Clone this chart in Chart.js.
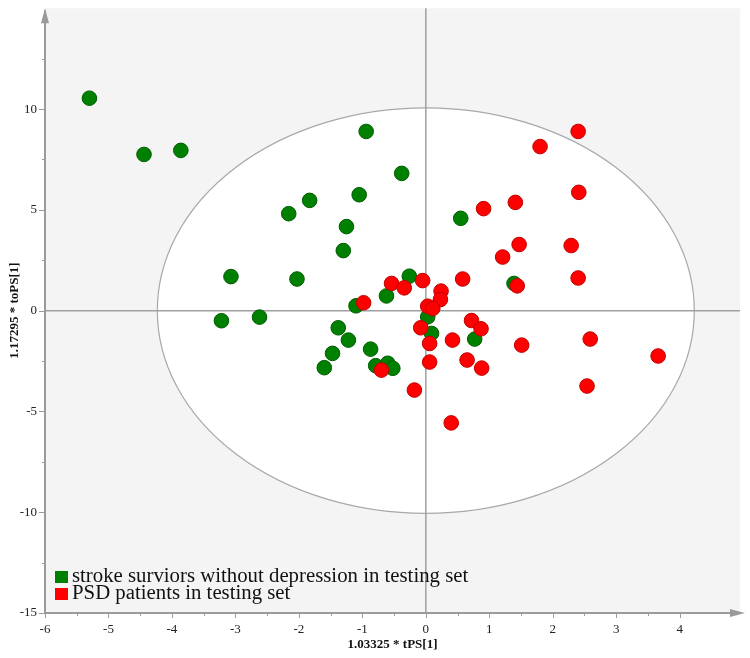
<!DOCTYPE html>
<html>
<head>
<meta charset="utf-8">
<script src="https://cdn.jsdelivr.net/npm/chart.js@4"></script>
<style>
  body { margin: 0; background: #fff; }
  #wrap { width: 750px; height: 658px; position: relative; }
</style>
</head>
<body>
<div id="wrap"><canvas id="scoreChart"></canvas></div>
<script>
// group names used in the legend
var seriesNames = [
    'stroke surviors without depression in testing set',
    'PSD patients in testing set'
];

// stroke survivors without depression (green)
var greenX = [-5.30, -4.44, -3.86, -0.94, -0.38, -1.83, -2.16, -1.05, -1.25, -1.30,
              -2.03, 0.55, -0.26, -0.62, -1.10, -3.22, -3.07, -2.62, -1.38, -1.22,
              -1.47, -1.60, 0.03, 0.09, 0.77, 1.39, -0.87, -0.79, -0.60, -0.52];
var greenY = [10.54, 7.75, 7.95, 8.89, 6.81, 5.47, 4.81, 5.75, 4.17, 2.98,
              1.57, 4.58, 1.71, 0.73, 0.24, -0.50, 1.69, -0.32, -0.85, -1.46,
              -2.12, -2.83, -0.31, -1.13, -1.41, 1.35, -1.91, -2.73, -2.61, -2.86];

// PSD patients (red)
var redX = [-0.98, -0.54, -0.34, -0.05, 0.24, 0.23, 0.03, 0.11, -0.08, 0.06,
            0.06, 0.42, 0.72, 0.87, 0.65, 0.88, -0.18, 0.40, 0.58, 1.21,
            -0.70, 2.40, 1.80, 2.41, 1.41, 0.91, 1.47, 2.29, 2.40, 1.44,
            1.51, 2.59, 3.66, 2.54];
var redY = [0.39, 1.35, 1.13, 1.49, 0.97, 0.55, 0.22, 0.11, -0.85, -1.63,
            -2.55, -1.46, -0.49, -0.90, -2.45, -2.85, -3.94, -5.57, 1.57, 2.66,
            -2.95, 8.89, 8.14, 5.87, 5.37, 5.06, 3.28, 3.23, 1.62, 1.23,
            -1.71, -1.41, -2.25, -3.74];

// Hotelling T2 ellipse half axes
var ellipseRx = 4.23;
var ellipseRy = 10.06;

var seriesColors = ['#008000', '#ff0000'];
var seriesBorders = ['#005c00', '#c00000'];

function toPoints(xs, ys) {
    var pts = [];
    for (var i = 0; i < xs.length; i++) pts.push({ x: xs[i], y: ys[i] });
    return pts;
}

var axisColor = '#9a9a9a';
var serif = "'Liberation Serif', 'Times New Roman', serif";

// grey plot area, white ellipse, lines through zero
var backdrop = {
    id: 'backdrop',
    beforeDatasetsDraw: function(chart) {
        var ctx = chart.ctx, a = chart.chartArea;
        var sx = chart.scales.x, sy = chart.scales.y;
        var cx = sx.getPixelForValue(0), cy = sy.getPixelForValue(0);
        ctx.save();
        ctx.fillStyle = '#f4f4f4';
        ctx.fillRect(a.left, a.top, a.right - a.left, a.bottom - a.top);
        ctx.beginPath();
        ctx.ellipse(cx, cy, sx.getPixelForValue(ellipseRx) - cx, cy - sy.getPixelForValue(ellipseRy), 0, 0, Math.PI * 2);
        ctx.fillStyle = '#ffffff';
        ctx.fill();
        ctx.lineWidth = 1.2;
        ctx.strokeStyle = '#a8a8a8';
        ctx.stroke();
        ctx.beginPath();
        ctx.moveTo(cx, a.top);
        ctx.lineTo(cx, a.bottom);
        ctx.moveTo(a.left, cy);
        ctx.lineTo(a.right, cy);
        ctx.lineWidth = 1.5;
        ctx.strokeStyle = '#a0a0a0';
        ctx.stroke();

        // axis lines
        ctx.beginPath();
        ctx.moveTo(a.left, a.top + 2);
        ctx.lineTo(a.left, a.bottom);
        ctx.lineTo(a.right, a.bottom);
        ctx.lineWidth = 2;
        ctx.strokeStyle = axisColor;
        ctx.stroke();

        // tick marks, long on whole numbers
        ctx.lineWidth = 1;
        ctx.beginPath();
        sx.ticks.forEach(function(t) {
            var p = Math.round(sx.getPixelForValue(t.value)) + 0.5;
            var len = Number.isInteger(t.value) ? 5 : 3;
            ctx.moveTo(p, a.bottom);
            ctx.lineTo(p, a.bottom + len);
        });
        sy.ticks.forEach(function(t) {
            var p = Math.round(sy.getPixelForValue(t.value)) + 0.5;
            var len = (t.value % 5 === 0) ? 6 : 3;
            ctx.moveTo(a.left, p);
            ctx.lineTo(a.left - len, p);
        });
        ctx.stroke();

        // arrow heads
        ctx.fillStyle = axisColor;
        ctx.beginPath();
        ctx.moveTo(a.left, a.top);
        ctx.lineTo(a.left - 4, a.top + 15);
        ctx.lineTo(a.left + 4, a.top + 15);
        ctx.closePath();
        ctx.fill();
        ctx.beginPath();
        ctx.moveTo(a.right + 5, a.bottom);
        ctx.lineTo(a.right - 10, a.bottom - 4);
        ctx.lineTo(a.right - 10, a.bottom + 4);
        ctx.closePath();
        ctx.fill();
        ctx.restore();
    }
};

// legend box in the lower left corner of the plot
var cornerLegend = {
    id: 'cornerLegend',
    afterDraw: function(chart) {
        var ctx = chart.ctx, a = chart.chartArea;
        ctx.save();
        ctx.font = '20.8px ' + serif;
        ctx.textBaseline = 'middle';
        for (var i = 0; i < seriesNames.length; i++) {
            var y = a.bottom - 36 + i * 17;
            ctx.fillStyle = seriesColors[i];
            ctx.fillRect(a.left + 10, y - 6, 13, 12);
            ctx.fillStyle = '#111';
            ctx.fillText(seriesNames[i], a.left + 27, y);
        }
        ctx.restore();
    }
};

function keepHalfSteps(scale, top) {
    scale.ticks = scale.ticks.filter(function(t) {
        return Math.abs(t.value * 2 - Math.round(t.value * 2)) < 1e-6 && t.value <= top;
    });
}

new Chart(document.getElementById('scoreChart'), {
    type: 'scatter',
    data: {
        datasets: [{
            label: seriesNames[0],
            data: toPoints(greenX, greenY),
            backgroundColor: seriesColors[0],
            borderColor: seriesBorders[0],
            borderWidth: 1,
            pointRadius: 7.3,
            order: 1
        }, {
            label: seriesNames[1],
            data: toPoints(redX, redY),
            backgroundColor: seriesColors[1],
            borderColor: seriesBorders[1],
            borderWidth: 1,
            pointRadius: 7.3,
            order: 0
        }]
    },
    options: {
        responsive: true,
        maintainAspectRatio: false,
        animation: false,
        events: [],
        layout: { padding: { top: 7, right: 10, left: 0, bottom: 0 } },
        plugins: {
            legend: { display: false },
            tooltip: { enabled: false }
        },
        scales: {
            x: {
                type: 'linear',
                min: -6,
                max: 4.95,
                afterBuildTicks: function(scale) { keepHalfSteps(scale, 4.5); },
                afterFit: function(scale) {
                    scale.height = 45;
                    scale.paddingLeft = 0;
                    scale.paddingRight = 0;
                },
                grid: { display: false, drawTicks: false },
                border: { display: false },
                ticks: {
                    stepSize: 0.5,
                    autoSkip: false,
                    maxRotation: 0,
                    padding: 9,
                    color: '#222',
                    font: { family: serif, size: 13 },
                    callback: function(v) { return Number.isInteger(v) ? String(v) : ''; }
                },
                title: {
                    display: true,
                    text: '1.03325 * tPS[1]',
                    color: '#111',
                    font: { family: serif, size: 13, weight: 'bold' },
                    padding: { top: 0, bottom: 6 }
                }
            },
            y: {
                type: 'linear',
                min: -15,
                max: 15,
                afterBuildTicks: function(scale) { keepHalfSteps(scale, 12.5); },
                afterFit: function(scale) {
                    scale.width = 45;
                    scale.paddingTop = 0;
                    scale.paddingBottom = 0;
                },
                grid: { display: false, drawTicks: false },
                border: { display: false },
                ticks: {
                    stepSize: 2.5,
                    autoSkip: false,
                    padding: 8,
                    color: '#222',
                    font: { family: serif, size: 13 },
                    callback: function(v) { return (v % 5 === 0) ? String(v) : ''; }
                },
                title: {
                    display: true,
                    text: '1.17295 * toPS[1]',
                    color: '#111',
                    font: { family: serif, size: 13, weight: 'bold' },
                    padding: { top: 7, bottom: 0 }
                }
            }
        }
    },
    plugins: [backdrop, cornerLegend]
});
</script>
</body>
</html>
